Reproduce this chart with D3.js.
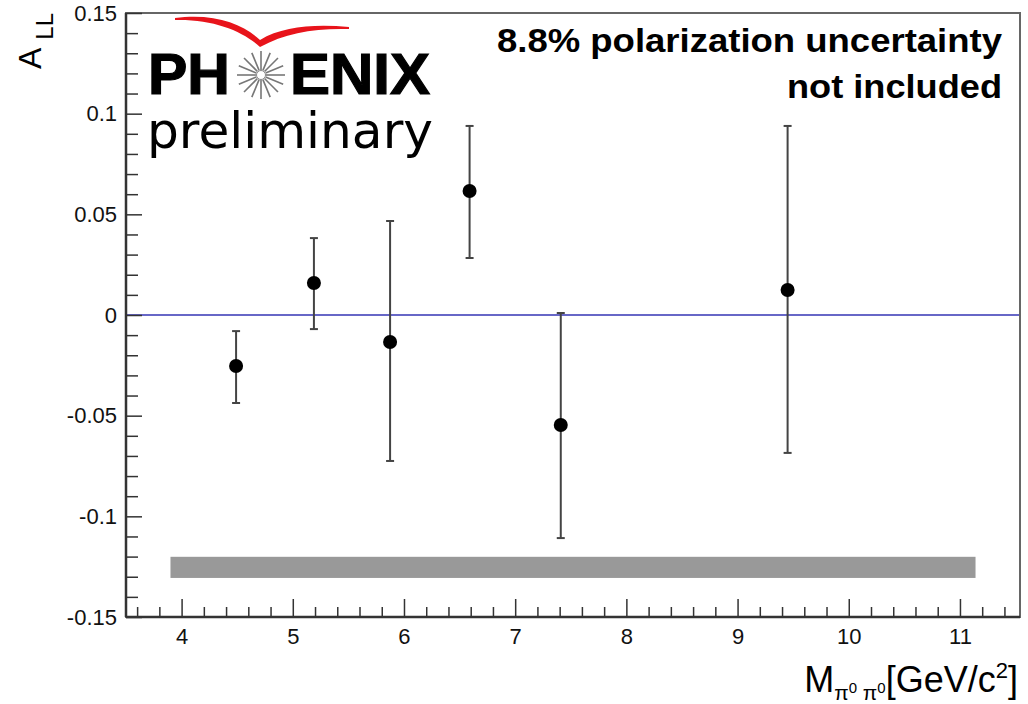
<!DOCTYPE html>
<html>
<head>
<meta charset="utf-8">
<script src="https://cdn.jsdelivr.net/npm/d3@7"></script>
<style>
  body { margin: 0; background: #fff; }
  svg { display: block; }
</style>
</head>
<body>
<svg id="chart" width="1028" height="704" font-family='"Liberation Sans", Arial, sans-serif'></svg>
<script>
// measured points: pi0 pi0 invariant mass vs A_LL
const mass = [4.49, 5.19, 5.875, 6.59, 7.41, 9.45];
const asym = [-0.0253, 0.0159, -0.0134, 0.0616, -0.0546, 0.0124];
const errHi = [-0.0080, 0.0382, 0.0467, 0.0939, 0.0010, 0.0939];
const errLo = [-0.0437, -0.0070, -0.0725, 0.0283, -0.1108, -0.0685];

// systematic band
const sysX = [3.9, 11.14];
const sysY = [-0.1306, -0.1201];

const xTicks = [4, 5, 6, 7, 8, 9, 10, 11];
const yTicks = [-0.15, -0.1, -0.05, 0, 0.05, 0.1, 0.15];
const yTickLabels = ["-0.15", "-0.1", "-0.05", "0", "0.05", "0.1", "0.15"];

const margin = { top: 13, left: 126, right: 8, bottom: 87 };
const W = 1028, H = 704;
const chartW = W - margin.left - margin.right;
const chartH = H - margin.top - margin.bottom;

const svg = d3.select('#chart');
const g = svg.append('g').attr('transform', `translate(${margin.left},${margin.top})`);

const x = d3.scaleLinear().domain([3.5, 11.54]).range([0, chartW]);
const y = d3.scaleLinear().domain([-0.15, 0.15]).range([chartH, 0]);

// systematic band
g.append('rect')
  .attr('x', x(sysX[0]))
  .attr('width', x(sysX[1]) - x(sysX[0]))
  .attr('y', y(sysY[1]))
  .attr('height', y(sysY[0]) - y(sysY[1]))
  .attr('fill', '#999');

// zero line
g.append('line')
  .attr('x1', 0).attr('x2', chartW)
  .attr('y1', y(0)).attr('y2', y(0))
  .attr('stroke', '#3535b5').attr('stroke-width', 1.5);

// frame
g.append('rect')
  .attr('width', chartW).attr('height', chartH)
  .attr('fill', 'none').attr('stroke', '#666').attr('stroke-width', 2);

// minor ticks
const xMinor = d3.range(3.6, 11.5, 0.2).filter(v => Math.abs(v - Math.round(v)) > 0.01);
const yMinor = d3.range(-0.14, 0.145, 0.01).filter(v => Math.abs(v / 0.05 - Math.round(v / 0.05)) > 0.01);

g.append('g')
  .attr('class', 'axis x-minor')
  .attr('transform', `translate(0,${chartH})`)
  .call(d3.axisBottom(x).tickValues(xMinor).tickSize(-10).tickSizeOuter(0).tickFormat(''));

g.append('g')
  .attr('class', 'axis y-minor')
  .call(d3.axisLeft(y).tickValues(yMinor).tickSize(-12).tickSizeOuter(0).tickFormat(''));

// major ticks
g.append('g')
  .attr('class', 'axis x-major')
  .attr('transform', `translate(0,${chartH})`)
  .call(d3.axisBottom(x).tickValues(xTicks).tickSize(-18).tickSizeOuter(0).tickPadding(11).tickFormat(d3.format('d')));

g.append('g')
  .attr('class', 'axis y-major')
  .call(d3.axisLeft(y).tickValues(yTicks).tickSize(-16).tickSizeOuter(0).tickPadding(9)
    .tickFormat((d, i) => yTickLabels[i]));

g.selectAll('.axis .domain').remove();
g.selectAll('.axis line').attr('stroke', '#333').attr('stroke-width', 1.5);
g.selectAll('.axis text').attr('font-size', 22).attr('font-family', '"Liberation Sans", Arial, sans-serif').attr('fill', '#111');

// axis lines (left + bottom a bit darker)
g.append('line').attr('x1', 0).attr('x2', 0).attr('y1', 0).attr('y2', chartH)
  .attr('stroke', '#333').attr('stroke-width', 2.5);
g.append('line').attr('x1', 0).attr('x2', chartW).attr('y1', chartH).attr('y2', chartH)
  .attr('stroke', '#333').attr('stroke-width', 2.5);

// error bars
const pts = mass.map((m, i) => ({ m, a: asym[i], hi: errHi[i], lo: errLo[i] }));
const eb = g.append('g').attr('stroke', '#444').attr('stroke-width', 2);
eb.selectAll('line.bar').data(pts).join('line')
  .attr('class', 'bar')
  .attr('x1', d => x(d.m)).attr('x2', d => x(d.m))
  .attr('y1', d => y(d.hi)).attr('y2', d => y(d.lo));
eb.selectAll('line.capHi').data(pts).join('line')
  .attr('class', 'capHi')
  .attr('x1', d => x(d.m) - 4).attr('x2', d => x(d.m) + 4)
  .attr('y1', d => y(d.hi)).attr('y2', d => y(d.hi));
eb.selectAll('line.capLo').data(pts).join('line')
  .attr('class', 'capLo')
  .attr('x1', d => x(d.m) - 4).attr('x2', d => x(d.m) + 4)
  .attr('y1', d => y(d.lo)).attr('y2', d => y(d.lo));

g.selectAll('circle.pt').data(pts).join('circle')
  .attr('class', 'pt')
  .attr('cx', d => x(d.m)).attr('cy', d => y(d.a))
  .attr('r', 7).attr('fill', '#000');

// annotation
const note = svg.append('text')
  .attr('text-anchor', 'end').attr('font-weight', 'bold').attr('font-size', 33);
note.append('tspan').attr('x', 1002).attr('y', 52)
  .attr('textLength', 505).attr('lengthAdjust', 'spacingAndGlyphs').text('8.8% polarization uncertainty');
note.append('tspan').attr('x', 1002).attr('y', 98)
  .attr('textLength', 215).attr('lengthAdjust', 'spacingAndGlyphs').text('not included');

// PHENIX logo
const logo = svg.append('g');
logo.append('path')
  .attr('d', 'M175,18 C215,13 243,24 260,40 C283,26 315,24 349,27 L349,29 C315,28 285,33 260,47 C243,31 213,19 175,20 Z')
  .attr('fill', '#e8141b');
logo.append('text').attr('x', 148).attr('y', 94)
  .attr('font-size', 57).attr('font-weight', 'bold')
  .attr('stroke', '#000').attr('stroke-width', 1.2)
  .attr('textLength', 82).attr('lengthAdjust', 'spacingAndGlyphs').text('PH');
logo.append('text').attr('x', 290).attr('y', 94)
  .attr('font-size', 57).attr('font-weight', 'bold')
  .attr('stroke', '#000').attr('stroke-width', 1.2)
  .attr('textLength', 140).attr('lengthAdjust', 'spacingAndGlyphs').text('ENIX');
const star = logo.append('g').attr('transform', 'translate(261,75)');
star.selectAll('line').data(d3.range(16)).join('line')
  .attr('x1', d => 5 * Math.cos(d * Math.PI / 8)).attr('y1', d => 5 * Math.sin(d * Math.PI / 8))
  .attr('x2', d => 24 * Math.cos(d * Math.PI / 8)).attr('y2', d => 24 * Math.sin(d * Math.PI / 8))
  .attr('stroke', '#777').attr('stroke-width', 1.6);
star.append('circle').attr('r', 4.5).attr('fill', 'none').attr('stroke', '#888').attr('stroke-width', 1);
logo.append('text').attr('x', 147).attr('y', 148)
  .attr('font-family', '"DejaVu Sans", sans-serif').attr('font-size', 50)
  .attr('textLength', 286).attr('lengthAdjust', 'spacingAndGlyphs').text('preliminary');

// y-axis title
const yt = svg.append('text')
  .attr('transform', 'translate(41,13) rotate(-90)')
  .attr('text-anchor', 'end').attr('font-size', 32);
yt.append('tspan').text('A');
yt.append('tspan').attr('font-size', 24).attr('dx', 8).attr('dy', 12).text('LL');

// x-axis title
const xt = svg.append('text')
  .attr('x', 1018).attr('y', 692)
  .attr('text-anchor', 'end').attr('font-size', 36);
xt.append('tspan').text('M');
xt.append('tspan').attr('font-size', 21).attr('dy', 8).text('π');
xt.append('tspan').attr('font-size', 15).attr('dy', -7).text('0');
xt.append('tspan').attr('font-size', 21).attr('dy', 7).text(' π');
xt.append('tspan').attr('font-size', 15).attr('dy', -7).text('0');
xt.append('tspan').attr('dy', -1).text('[GeV/c');
xt.append('tspan').attr('font-size', 22).attr('dy', -14).text('2');
xt.append('tspan').attr('dy', 14).text(']');
</script>
</body>
</html>
